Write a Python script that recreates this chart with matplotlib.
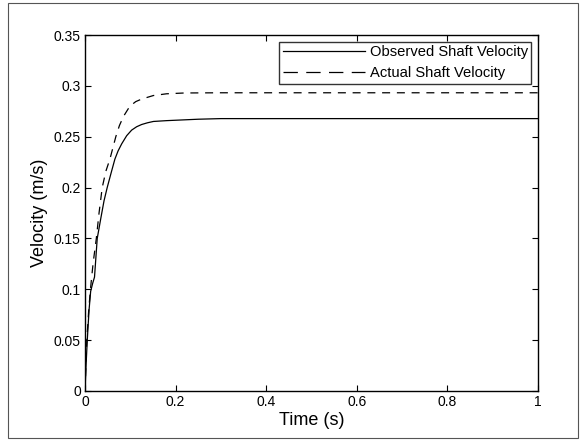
import matplotlib
matplotlib.use("Agg")
import matplotlib.pyplot as plt
from matplotlib.patches import Rectangle

# values
t_obs = [0, 0.002, 0.005, 0.009, 0.0125, 0.017, 0.021, 0.027, 0.035, 0.042, 0.049, 0.058,
         0.066, 0.073, 0.081, 0.092, 0.103, 0.114, 0.125, 0.138, 0.151, 0.180, 0.210,
         0.250, 0.300, 0.500, 1.0]
v_obs = [0, 0.022, 0.050, 0.080, 0.098, 0.106, 0.112, 0.150, 0.170, 0.187, 0.200, 0.215,
         0.228, 0.236, 0.243, 0.251, 0.2565, 0.2598, 0.2620, 0.2637, 0.2650, 0.2658, 0.2664,
         0.2672, 0.2678, 0.2678, 0.2678]

t_act = [0, 0.002, 0.004, 0.008, 0.012, 0.018, 0.025, 0.031, 0.038, 0.046, 0.055, 0.068,
         0.076, 0.085, 0.099, 0.112, 0.125, 0.151, 0.180, 0.220, 0.300, 1.0]
v_act = [0, 0.025, 0.050, 0.078, 0.100, 0.126, 0.150, 0.175, 0.200, 0.216, 0.228, 0.250,
         0.261, 0.270, 0.280, 0.2845, 0.287, 0.2905, 0.2922, 0.2930, 0.2932, 0.2932]

plt.rcParams['font.family'] = ['Liberation Sans', 'DejaVu Sans']

fig = plt.figure(figsize=(5.85, 4.41), dpi=100)
ax = fig.add_axes([85 / 585, 1 - 391 / 441, (538 - 85) / 585, (391 - 35) / 441])

ax.plot(t_obs, v_obs, color='black', lw=0.9, label='Observed Shaft Velocity')
ax.plot(t_act, v_act, color='black', lw=0.9, ls=(0, (6.4, 5.4)), label='Actual Shaft Velocity')

ax.set_xlim(0, 1)
ax.set_ylim(0, 0.35)
ax.set_xticks([0, 0.2, 0.4, 0.6, 0.8, 1])
ax.set_xticklabels(['0', '0.2', '0.4', '0.6', '0.8', '1'])
ax.set_yticks([0, 0.05, 0.1, 0.15, 0.2, 0.25, 0.3, 0.35])
ax.set_yticklabels(['0', '0.05', '0.1', '0.15', '0.2', '0.25', '0.3', '0.35'])
ax.tick_params(direction='in', top=True, right=True, length=4, width=0.8,
               labelsize=10, pad=3)
for s in ax.spines.values():
    s.set_linewidth(1.0)

ax.set_xlabel('Time (s)', fontsize=13, labelpad=2)
ax.set_ylabel('Velocity (m/s)', fontsize=13, labelpad=4)

leg = ax.legend(loc='upper right', fontsize=10.6, frameon=True, fancybox=False,
                handlelength=5.6, borderaxespad=0.45, borderpad=0.25,
                labelspacing=0.45, handletextpad=0.3)
leg.get_frame().set_edgecolor('black')
leg.get_frame().set_linewidth(1.0)
# legend sample uses longer dashes, as in the original (4 dashes fill the handle)
leg.get_lines()[1].set_dashes((11.5, 6.7))

# outer frame around the whole picture
fig.patches.append(Rectangle((8 / 585, 3 / 441), (578 - 8) / 585, (438 - 3) / 441,
                             transform=fig.transFigure, fill=False,
                             edgecolor='#555555', lw=0.8))

fig.savefig('out.png', dpi=100)
